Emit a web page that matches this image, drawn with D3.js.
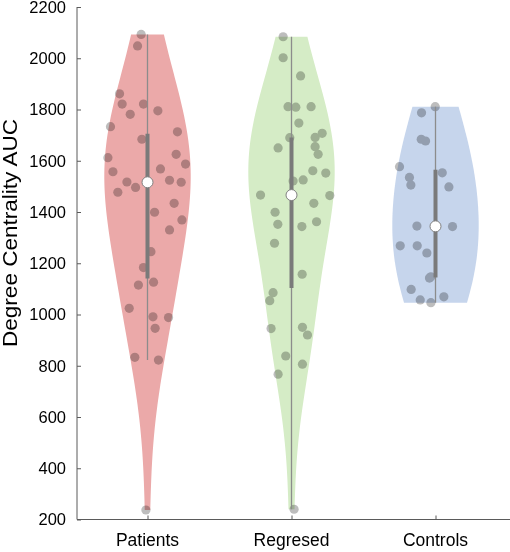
<!DOCTYPE html>
<html>
<head>
<meta charset="utf-8">
<script src="https://cdn.jsdelivr.net/npm/d3@7"></script>
<style>
  body { margin: 0; background: #fff; }
  svg { display: block; font-family: "Liberation Sans", Arial, sans-serif; }
</style>
</head>
<body>
<svg id="chart" width="510" height="552"></svg>
<script>
const groups = ["Patients", "Regresed", "Controls"];
const colors = ["#eba9a9", "#d5ecc6", "#c6d5ec"];
const yTicks = [200, 400, 600, 800, 1000, 1200, 1400, 1600, 1800, 2000, 2200];

// values, with the horizontal jitter (category units)
const patients = [2093, 2048, 1861, 1821, 1781, 1821, 1795, 1733, 1684, 1713, 1612, 1625, 1587, 1557, 1568, 1517, 1477, 1496,
  1524, 1516, 1434, 1399, 1369, 1330, 1245, 1183, 1115, 1126, 1024, 991, 988, 946, 833, 822, 237];
const patientsJitter = [-0.044, -0.069, -0.194, -0.176, -0.120, -0.028, 0.072, -0.257, -0.039, 0.208, -0.275, 0.199, 0.264, -0.240,
  0.090, -0.143, -0.206, -0.083, 0.153, 0.234, 0.185, 0.049, 0.239, 0.153, 0.024, -0.028, -0.063, 0.042, -0.127, 0.038, 0.146,
  0.053, -0.088, 0.076, -0.011];

const regresed = [2084, 2002, 1931, 1811, 1809, 1811, 1747, 1690, 1691, 1707, 1650, 1655, 1625, 1561, 1552, 1521, 1525, 1466,
  1464, 1399, 1434, 1352, 1343, 1362, 1278, 1157, 1085, 1054, 945, 950, 920, 838, 806, 767, 240];
const regresedJitter = [-0.058, -0.058, 0.063, -0.024, 0.030, 0.136, 0.051, -0.012, 0.164, 0.213, -0.093, 0.164, 0.185, 0.148,
  0.238, 0.011, 0.081, -0.215, 0.266, -0.114, 0.155, -0.095, 0.072, 0.174, -0.118, 0.074, -0.128, -0.151, -0.142, 0.076, 0.111,
  -0.040, 0.076, -0.093, 0.018];

const controls = [1811, 1787, 1684, 1677, 1577, 1535, 1505, 1553, 1498, 1345, 1343, 1268, 1268, 1240, 1142, 1147, 1098, 1057,
  1046, 1069];
const controlsJitter = [-0.002, -0.097, -0.099, -0.069, -0.250, -0.181, -0.171, 0.047, 0.093, -0.129, 0.118, -0.245, -0.127,
  -0.060, -0.042, -0.032, -0.169, -0.106, -0.032, 0.058];

const series = [
  {name: groups[0], values: patients, jitter: patientsJitter, color: colors[0]},
  {name: groups[1], values: regresed, jitter: regresedJitter, color: colors[1]},
  {name: groups[2], values: controls, jitter: controlsJitter, color: colors[2]}
];

const svg = d3.select("#chart");
const x = d3.scaleLinear([0.5, 3.5], [75.5, 507.5]);
const y = d3.scaleLinear([200, 2200], [519.5, 7]);
const halfWidth = 0.3;

// matlab style quantile
const quantile = (arr, p) => {
  const s = arr.slice().sort((a, b) => a - b);
  const n = s.length;
  const pos = n * p + 0.5;
  if (pos <= 1) return s[0];
  if (pos >= n) return s[n - 1];
  const lo = Math.floor(pos);
  return s[lo - 1] + (pos - lo) * (s[lo] - s[lo - 1]);
};

const kde = (values) => {
  const n = values.length;
  const med = d3.median(values);
  const sig = d3.median(values, v => Math.abs(v - med)) / 0.6745;
  const bw = 1.4 * sig * Math.pow(4 / (3 * n), 0.2);
  const [lo, hi] = d3.extent(values);
  const pts = d3.range(100).map(i => lo + (hi - lo) * i / 99);
  const dens = pts.map(p => d3.sum(values, v => Math.exp(-0.5 * ((p - v) / bw) ** 2)));
  const m = d3.max(dens);
  return pts.map((p, i) => ({value: p, w: dens[i] / m * halfWidth}));
};

series.forEach((s, i) => {
  const pos = i + 1;
  const k = kde(s.values);
  svg.append("path")
    .attr("fill", s.color)
    .attr("d", d3.area()
      .curve(d3.curveLinear)
      .y(d => y(d.value))
      .x0(d => x(pos - d.w))
      .x1(d => x(pos + d.w))
      (k));
});

const dots = svg.append("g").style("mix-blend-mode", "multiply");
series.forEach((s, i) => {
  dots.selectAll(null)
    .data(s.values.map((v, j) => ({v, j: s.jitter[j]})))
    .join("circle")
    .attr("cx", d => x(i + 1 + d.j))
    .attr("cy", d => y(d.v))
    .attr("r", 4.6)
    .attr("fill", "#bdbdbd");
});

series.forEach((s, i) => {
  const pos = i + 1;
  const q1 = quantile(s.values, 0.25);
  const q3 = quantile(s.values, 0.75);
  const med = d3.median(s.values);
  const iqr = q3 - q1;
  const lowW = d3.min(s.values.filter(v => v > q1 - 1.5 * iqr));
  const hiW = d3.max(s.values.filter(v => v < q3 + 1.5 * iqr));
  svg.append("line")
    .attr("x1", x(pos)).attr("x2", x(pos))
    .attr("y1", y(lowW)).attr("y2", y(hiW))
    .attr("stroke", "#8c8c8c")
    .attr("stroke-width", 1.3);
  svg.append("line")
    .attr("x1", x(pos)).attr("x2", x(pos))
    .attr("y1", y(q1)).attr("y2", y(q3))
    .attr("stroke", "#7a7a7a")
    .attr("stroke-width", 4);
  svg.append("circle")
    .attr("cx", x(pos))
    .attr("cy", y(med))
    .attr("r", 5.5)
    .attr("fill", "#fff")
    .attr("stroke", "#808080")
    .attr("stroke-width", 1);
});

// axes
const axisColor = "#5a5a5a";
const yAxis = svg.append("g")
  .attr("transform", "translate(77,0)")
  .call(d3.axisRight(y).tickValues(yTicks).tickSize(4).tickFormat(""));
yAxis.select(".domain").attr("d", `M0,${y(2200)}V${y(200)}`);
yAxis.selectAll("path,line").attr("stroke", axisColor);

svg.append("g")
  .selectAll("text")
  .data(yTicks)
  .join("text")
  .attr("x", 66)
  .attr("y", d => y(d))
  .attr("dy", "0.36em")
  .attr("text-anchor", "end")
  .attr("font-size", 16.5)
  .attr("fill", "#000")
  .text(d => d);

const xAxis = svg.append("g")
  .attr("transform", `translate(0,${y(200)})`)
  .call(d3.axisTop(x).tickValues([1, 2, 3]).tickSize(4).tickFormat(""));
xAxis.select(".domain").attr("d", "M77,0H510");
xAxis.selectAll("path,line").attr("stroke", axisColor);

svg.append("g")
  .selectAll("text")
  .data(groups)
  .join("text")
  .attr("x", (d, i) => x(i + 1))
  .attr("y", 546)
  .attr("text-anchor", "middle")
  .attr("font-size", 17.5)
  .attr("fill", "#000")
  .text(d => d);

svg.append("text")
  .attr("transform", "translate(17,233) rotate(-90)")
  .attr("text-anchor", "middle")
  .attr("font-size", 19.5)
  .attr("textLength", 228)
  .attr("lengthAdjust", "spacingAndGlyphs")
  .attr("fill", "#000")
  .text("Degree Centrality AUC");
</script>
</body>
</html>
